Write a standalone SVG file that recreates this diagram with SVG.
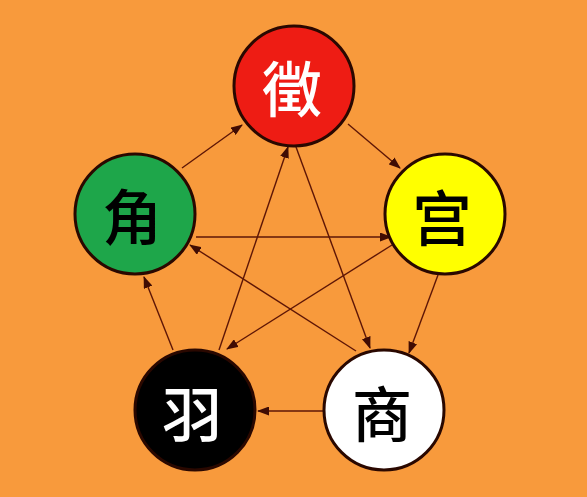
<svg xmlns="http://www.w3.org/2000/svg" width="587" height="497" viewBox="0 0 587 497">
<defs>
<style>
.node circle{stroke:#2a0800;stroke-width:3}
.node text{font-family:"Noto Sans CJK SC","Noto Sans CJK TC",sans-serif;font-size:60px;font-weight:500;text-anchor:middle}
#connectors line{stroke:#5e1606;stroke-width:1.4;marker-end:url(#ah)}
</style>
<marker id="ah" markerWidth="12" markerHeight="9" refX="11" refY="4.5" orient="auto" markerUnits="userSpaceOnUse">
<path d="M0,0 L12,4.5 L0,9 Z" fill="#400c03"/>
</marker>
</defs>
<rect width="587" height="497" fill="#f89a3c"/>
<g id="connectors">
<line x1="182" y1="168" x2="242" y2="125"/>
<line x1="348" y1="124" x2="400" y2="168"/>
<line x1="438" y1="275" x2="409" y2="353"/>
<line x1="324" y1="411" x2="258" y2="411"/>
<line x1="173" y1="350" x2="144" y2="277"/>
<line x1="196" y1="237" x2="391" y2="237"/>
<line x1="392" y1="245" x2="227" y2="349"/>
<line x1="219" y1="350" x2="288" y2="147"/>
<line x1="296" y1="147" x2="370" y2="348"/>
<line x1="356" y1="351" x2="190" y2="245"/>
</g>
<g id="zhi" class="node"><circle cx="294" cy="86" r="60" fill="#ee1c14"/><text x="292" y="112" fill="#ffffff">徵</text></g>
<g id="gong" class="node"><circle cx="445" cy="214" r="60" fill="#ffff00"/><text x="442" y="241" fill="#000000">宫</text></g>
<g id="jue" class="node"><circle cx="135" cy="214" r="60" fill="#1ea64a"/><text x="132" y="240" fill="#000000">角</text></g>
<g id="yu" class="node"><circle cx="195" cy="410" r="60" fill="#000000"/><text x="192" y="437" fill="#ffffff">羽</text></g>
<g id="shang" class="node"><circle cx="384" cy="410" r="60" fill="#ffffff"/><text x="382" y="437" fill="#000000">商</text></g>
</svg>
